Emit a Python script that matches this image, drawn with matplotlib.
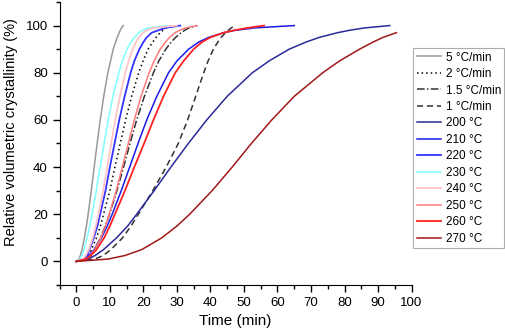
import numpy as np
import matplotlib
matplotlib.use("Agg")
import matplotlib.pyplot as plt
from matplotlib.ticker import MultipleLocator

plt.rcParams['font.family'] = ['Liberation Sans', 'DejaVu Sans']

# relative crystallinity levels (%) and the times (min)
levels = [0, 1, 2.5, 5, 10, 15, 20, 30, 40, 50, 60, 70, 80, 85, 90, 93, 95, 97, 98, 99, 100]

t_5cmin = [0, 0.74, 1.18, 1.69, 2.42, 3.0, 3.52, 4.45, 5.32, 6.2, 7.13, 8.17, 9.4, 10.2,
           11.0, 11.7, 12.2, 12.8, 13.1, 13.5, 14.0]
t_2cmin = [0, 2.6, 3.7, 4.5, 6.0, 7.2, 8.1, 10.0, 11.5, 13.1, 14.7, 16.5, 18.6, 19.9,
           21.4, 22.8, 23.8, 25.0, 25.8, 26.8, 28.5]
t_15cmin = [0, 3.2, 4.4, 5.3, 7.2, 8.6, 9.9, 12.1, 14.1, 16.0, 18.0, 20.3, 23.0, 24.6,
            26.7, 28.3, 29.6, 31.3, 32.3, 33.6, 36.0]
t_1cmin = [0, 5.5, 8.0, 10.3, 13.8, 16.3, 18.5, 22.8, 26.8, 30.4, 33.2, 35.6, 38.0, 39.3,
           40.9, 42.2, 43.2, 44.5, 45.3, 46.2, 47.5]

t_200 = [0, 3.4, 5.6, 8.1, 12.0, 15.3, 18.0, 23.2, 28.2, 33.4, 38.9, 45.0, 52.5, 57.5,
         63.5, 68.5, 72.5, 78.0, 81.5, 86.0, 93.5]
t_210 = [0, 2.5, 3.7, 5.3, 7.5, 9.2, 10.7, 13.4, 15.9, 18.4, 21.0, 24.0, 27.5, 30.0,
         33.5, 36.5, 39.5, 44.0, 47.5, 53.0, 65.0]
t_220 = [0, 2.3, 3.2, 3.9, 5.2, 6.3, 7.1, 8.7, 10.0, 11.4, 12.8, 14.4, 16.2, 17.3,
         18.8, 20.0, 21.0, 22.5, 24.5, 26.5, 31.0]
t_230 = [0, 1.0, 1.6, 2.3, 3.2, 4.0, 4.7, 5.95, 7.1, 8.3, 9.5, 10.9, 12.7, 13.7,
         15.1, 16.3, 17.3, 18.7, 19.7, 21.4, 27.0]
t_240 = [0, 1.9, 2.8, 3.7, 4.9, 5.8, 6.6, 8.0, 9.2, 10.4, 11.6, 13.0, 14.6, 15.6,
         16.8, 17.8, 18.7, 19.9, 21.0, 23.0, 30.0]
t_250 = [0, 2.9, 4.1, 5.5, 7.3, 8.7, 9.8, 11.9, 13.7, 15.5, 17.3, 19.3, 21.7, 23.2,
         25.0, 26.6, 27.8, 29.5, 30.8, 32.5, 36.0]
t_260 = [0, 2.9, 4.3, 6.0, 8.3, 10.0, 11.5, 14.5, 17.3, 20.2, 23.0, 26.0, 29.5, 32.0,
         35.0, 37.5, 40.0, 44.0, 47.0, 51.0, 56.0]

levels_270 = [0, 1, 2.5, 5, 10, 15, 20, 30, 40, 50, 60, 70, 80, 85, 90, 93, 95, 97]
t_270 = [0, 9.5, 14.5, 19.5, 25.5, 30.0, 33.8, 40.5, 46.5, 52.2, 58.3, 65.0, 73.5, 78.5,
         84.5, 88.5, 91.5, 95.5]

fig = plt.figure(figsize=(5.05, 3.31), dpi=100)
ax = fig.add_axes([0.118, 0.139, 0.697, 0.855])

ax.plot(t_5cmin, levels, color='#999999', lw=1.1, label='5 \u00b0C/min')
ax.plot(t_2cmin, levels, color='black', lw=1.1, ls=(0, (1, 2)), label='2 \u00b0C/min')
ax.plot(t_15cmin, levels, color='#333333', lw=1.1, ls=(0, (5, 1.5, 1, 1.5)), label='1.5 \u00b0C/min')
ax.plot(t_1cmin, levels, color='#333333', lw=1.1, ls=(0, (4, 2.5)), label='1 \u00b0C/min')
ax.plot(t_200, levels, color='#2a2a9a', lw=1.1, label='200 \u00b0C')
ax.plot(t_210, levels, color='#1a1ae6', lw=1.1, label='210 \u00b0C')
ax.plot(t_220, levels, color='#3333ff', lw=1.3, label='220 \u00b0C')
ax.plot(t_230, levels, color='#80ffff', lw=1.1, label='230 \u00b0C')
ax.plot(t_240, levels, color='#ffc4c8', lw=1.3, label='240 \u00b0C')
ax.plot(t_250, levels, color='#ff7b7b', lw=1.1, label='250 \u00b0C')
ax.plot(t_260, levels, color='#ff2222', lw=1.3, label='260 \u00b0C')
ax.plot(t_270, levels_270, color='#a01818', lw=1.1, label='270 \u00b0C')

ax.set_xlim(-5, 100)
ax.set_ylim(-10, 110)
ax.xaxis.set_major_locator(MultipleLocator(10))
ax.xaxis.set_minor_locator(MultipleLocator(5))
ax.yaxis.set_major_locator(MultipleLocator(20))
ax.yaxis.set_minor_locator(MultipleLocator(10))
ax.tick_params(which='major', direction='out', length=5, width=1, labelsize=9.5)
ax.tick_params(which='minor', direction='out', length=3, width=1)
ax.spines['top'].set_visible(False)
ax.spines['right'].set_visible(False)
ax.set_xlabel('Time (min)', fontsize=11)
ax.set_ylabel('Relative volumetric crystallinity (%)', fontsize=10.5)
ax.yaxis.set_label_coords(-0.118, 0.54)

leg = fig.legend(loc='upper left', bbox_to_anchor=(0.818, 0.855), fontsize=8.5,
                 fancybox=False, edgecolor='#999999', handlelength=2.1,
                 handletextpad=0.35, labelspacing=0.38, borderpad=0.3,
                 borderaxespad=0)
leg.get_frame().set_linewidth(0.8)

fig.savefig('out.png', dpi=100)
